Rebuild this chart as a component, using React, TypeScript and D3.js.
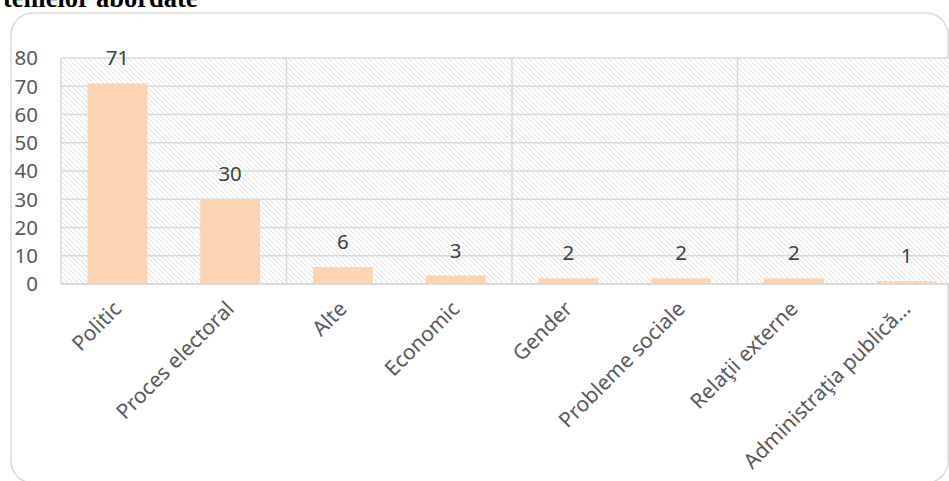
import React from "react";
import * as d3 from "d3";

const categories = [
  "Politic",
  "Proces electoral",
  "Alte",
  "Economic",
  "Gender",
  "Probleme sociale",
  "Relaţii externe",
  "Administraţia publică…",
];
const values = [71, 30, 6, 3, 2, 2, 2, 1];
const yTicks = [0, 10, 20, 30, 40, 50, 60, 70, 80];
const title = "temelor  abordate";

const W = 949;
const H = 481;
const plotLeft = 61;
const plotRight = 963;
const plotTop = 58;
const plotBottom = 284;
const font = "'Noto Sans', 'Open Sans', sans-serif";

export default function App() {
  const x = d3
    .scaleBand<string>()
    .domain(categories)
    .range([plotLeft, plotRight])
    .paddingInner(0.47)
    .paddingOuter(0.235);
  const y = d3.scaleLinear().domain([0, 80]).range([plotBottom, plotTop]);
  const step = x.step();
  const vLines = d3.range(0, categories.length + 1, 2).map((k) => plotLeft + k * step);
  const grid = "#d9d9d9";

  return (
    <svg
      width={W}
      height={H}
      style={{ position: "absolute", left: 0, top: 0, background: "#fff" }}
    >
      <defs>
        <pattern id="hatch" patternUnits="userSpaceOnUse" width="5" height="5">
          <rect width="5" height="5" fill="#fff" />
          <path d="M0,0 L5,5 M-1,4 L1,6 M4,-1 L6,1" stroke="#dedede" strokeWidth="1" />
        </pattern>
      </defs>
      <text
        x={3}
        y={7}
        fontFamily="'Liberation Serif', 'Times New Roman', serif"
        fontWeight="bold"
        fontSize={26.5}
        fill="#000"
      >
        {title}
      </text>
      <rect
        x={11}
        y={13}
        width={937}
        height={470}
        rx={22}
        ry={22}
        fill="#fff"
        stroke={grid}
        strokeWidth={1.5}
      />
      <rect
        x={plotLeft}
        y={plotTop}
        width={plotRight - plotLeft}
        height={plotBottom - plotTop}
        fill="url(#hatch)"
      />
      {yTicks.map((t) => (
        <line
          key={"h" + t}
          x1={plotLeft}
          x2={plotRight}
          y1={y(t)}
          y2={y(t)}
          stroke={grid}
          strokeWidth={1.5}
        />
      ))}
      {vLines.map((vx, i) => (
        <line
          key={"v" + i}
          x1={vx}
          x2={vx}
          y1={plotTop}
          y2={plotBottom}
          stroke={grid}
          strokeWidth={1.5}
        />
      ))}
      {categories.map((c, i) => (
        <rect
          key={"b" + c}
          x={x(c)}
          y={y(values[i])}
          width={x.bandwidth()}
          height={y(0) - y(values[i])}
          fill="#fbd4b4"
        />
      ))}
      <line x1={plotLeft} x2={plotRight} y1={y(0)} y2={y(0)} stroke={grid} strokeWidth={1.5} />
      {yTicks.map((t) => (
        <text
          key={"yt" + t}
          x={38}
          y={y(t)}
          dy="0.36em"
          textAnchor="end"
          fontFamily={font}
          fontSize={20.5}
          fill="#595959"
        >
          {t}
        </text>
      ))}
      {categories.map((c, i) => (
        <text
          key={"dl" + c}
          x={(x(c) as number) + x.bandwidth() / 2}
          y={y(values[i]) - 18}
          textAnchor="middle"
          fontFamily={font}
          fontSize={20.5}
          fill="#404040"
        >
          {values[i]}
        </text>
      ))}
      {categories.map((c) => {
        const cx = (x(c) as number) + x.bandwidth() / 2;
        const cy = 305;
        return (
          <text
            key={"xl" + c}
            transform={`translate(${cx},${cy}) rotate(-45)`}
            textAnchor="end"
            dy="0.35em"
            fontFamily={font}
            fontSize={21}
            fill="#595959"
          >
            {c}
          </text>
        );
      })}
    </svg>
  );
}
